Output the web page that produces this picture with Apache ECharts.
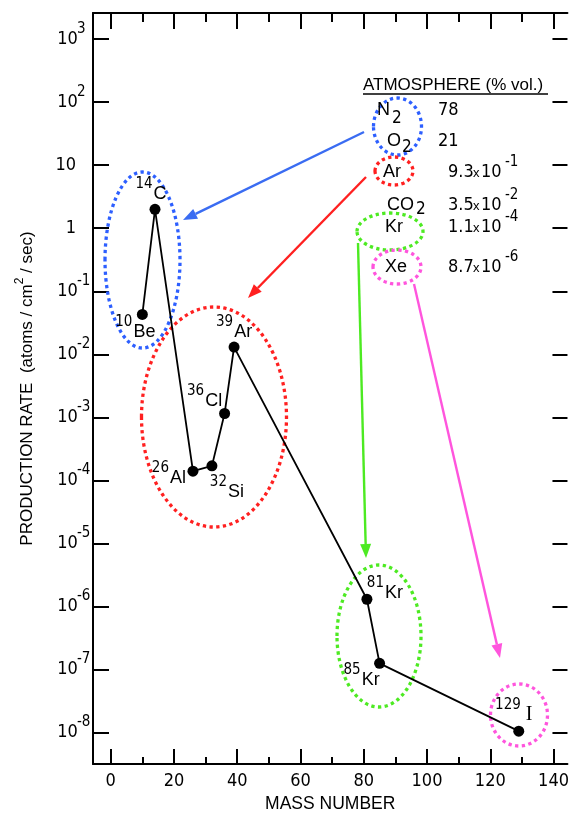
<!DOCTYPE html>
<html><head><meta charset="utf-8">
<script src="https://cdn.jsdelivr.net/npm/echarts@6/dist/echarts.min.js"></script>
<style>html,body{margin:0;padding:0;background:#fff}#c{width:572px;height:818px}</style>
</head><body><div id="c"></div>
<script>
// ---------- data ----------
const massNumbers = [10, 14, 26, 32, 36, 39, 81, 85, 129];
const productionRates = [4.3e-2, 2.0, 1.4e-4, 1.7e-4, 1.15e-3, 1.3e-2, 1.3e-6, 1.25e-7, 1.05e-8];
const isotopeElements = ['Be', 'C', 'Al', 'Si', 'Cl', 'Ar', 'Kr', 'Kr', 'I'];
const xTickValues = [0, 20, 40, 60, 80, 100, 120, 140];
const xMinorTickValues = [10, 30, 50, 70, 90, 110, 130];
const yTickValues = [1e-8, 1e-7, 1e-6, 1e-5, 1e-4, 1e-3, 1e-2, 1e-1, 1, 10, 100, 1000];
const gasNames = ['N', 'O', 'Ar', 'CO', 'Kr', 'Xe'];
const gasSubscripts = ['2', '2', '', '2', '', ''];
const gasMantissas = ['78', '21', '9.3', '3.5', '1.1', '8.7'];
const gasExponents = [null, null, -1, -2, -4, -6];

// ---------- layout / style (not data) ----------
const NARROW = '"Liberation Sans Narrow","DejaVu Sans Condensed","Liberation Sans",sans-serif';
const SANS = '"Liberation Sans",Arial,sans-serif';
const SERIF = '"Liberation Serif",serif';
const labelOffsets = [[-7, 18], [-4, -15], [-24, 7], [15, 26], [-20, -12], [0, -15], [18, -6], [-18, 17], [-5, -16]];
const rowY = [110, 141, 172, 205, 227, 267];
const nameX = [377, 387, 383, 387, 385, 385];
const subPos = [[392, 119], [402, 148], null, [416, 210], null, null];

const points = massNumbers.map((m, i) => ({
  value: [m, productionRates[i]],
  label: { offset: labelOffsets[i] }
}));

function arrow(x1, y1, x2, y2, color) {
  const a = Math.atan2(y2 - y1, x2 - x1), L = 14, W = 5.5;
  const bx = x2 - L * Math.cos(a), by = y2 - L * Math.sin(a);
  const px = -Math.sin(a) * W, py = Math.cos(a) * W;
  return [
    { type: 'line', shape: { x1: x1, y1: y1, x2: bx, y2: by }, style: { stroke: color, lineWidth: 2.4 }, z: 5 },
    { type: 'polygon', shape: { points: [[x2, y2], [bx + px, by + py], [bx - px, by - py]] }, style: { fill: color }, z: 5 }
  ];
}
function ell(cx, cy, rx, ry, color) {
  return { type: 'ellipse', shape: { cx: cx, cy: cy, rx: rx, ry: ry },
    style: { fill: 'none', stroke: color, lineWidth: 3.3, lineDash: [3.3, 3.4] }, z: 4 };
}
function txt(x, y, text, font, size, align) {
  return { type: 'text', x: x, y: y, z: 6,
    style: { text: text, fontFamily: font, fontSize: size, fill: '#000', align: align || 'left', verticalAlign: 'middle' } };
}

const BLUE = '#2d5fff', RED = '#ff2020', GREEN = '#4dea22', MAG = '#ff55dd';
const graphics = [];
graphics.push(ell(142.5, 260, 37.5, 88, BLUE));
graphics.push(ell(214, 417, 72.5, 110, RED));
graphics.push(ell(379, 636, 42, 71, GREEN));
graphics.push(ell(519, 715, 28.5, 31, MAG));
graphics.push(ell(397.5, 126.5, 24, 28.5, BLUE));
graphics.push(ell(394, 171, 19, 14, RED));
graphics.push(ell(390, 231.5, 33, 18.5, GREEN));
graphics.push(ell(397, 267, 24, 17, MAG));
graphics.push(...arrow(364, 132, 183, 220, '#3a6cf2'));
graphics.push(...arrow(366, 177, 248, 298, RED));
graphics.push(...arrow(358, 243, 366, 558, GREEN));
graphics.push(...arrow(414, 284, 500, 658, MAG));
graphics.push(txt(363, 85, 'ATMOSPHERE (% vol.)', SANS, 17));
graphics.push({ type: 'line', shape: { x1: 363, y1: 94, x2: 548, y2: 94 }, style: { stroke: '#000', lineWidth: 1.5 }, z: 6 });
gasNames.forEach((g, i) => {
  graphics.push(txt(nameX[i], rowY[i], g, SANS, 18));
  if (gasSubscripts[i]) graphics.push(txt(subPos[i][0], subPos[i][1], gasSubscripts[i], NARROW, 17));
  const vx = gasExponents[i] === null ? 438 : 448;
  graphics.push(txt(vx, rowY[i], gasMantissas[i], NARROW, 18));
  if (gasExponents[i] !== null) {
    graphics.push(txt(473, rowY[i] + 1, 'x', SANS, 13));
    graphics.push(txt(481, rowY[i], '10', NARROW, 18));
    graphics.push(txt(505, rowY[i] - 10, String(gasExponents[i]), NARROW, 15));
  }
});

const chart = echarts.init(document.getElementById('c'), null, { renderer: 'canvas' });
const xCommon = { type: 'value', min: -5.6, max: 144.4, splitLine: { show: false }, gridIndex: 0 };
const lineOn = { onZero: false, lineStyle: { color: '#000', width: 2 } };
const lineOff = { show: false, onZero: false };
chart.setOption({
  animation: false,
  backgroundColor: '#fff',
  grid: { left: 93, right: -3, top: 13, bottom: 52 },
  xAxis: [
    Object.assign({}, xCommon, {
      position: 'bottom',
      name: 'MASS NUMBER', nameLocation: 'middle', nameGap: 31,
      nameTextStyle: { fontFamily: SANS, fontSize: 17.5, color: '#000' },
      axisLine: lineOn,
      axisTick: { inside: true, length: 15, lineStyle: { color: '#000', width: 2 }, customValues: xTickValues },
      axisLabel: { customValues: xTickValues, margin: 8, fontFamily: NARROW, fontSize: 18, color: '#000' }
    }),
    Object.assign({}, xCommon, {
      position: 'bottom', axisLine: lineOff,
      axisTick: { inside: true, length: 7, lineStyle: { color: '#000', width: 2 }, customValues: xMinorTickValues },
      axisLabel: { show: false }
    }),
    Object.assign({}, xCommon, {
      position: 'top',
      axisLine: lineOn,
      axisTick: { inside: true, length: 16, lineStyle: { color: '#000', width: 2 }, customValues: xTickValues },
      axisLabel: { show: false }
    }),
    Object.assign({}, xCommon, {
      position: 'top', axisLine: lineOff,
      axisTick: { inside: true, length: 9, lineStyle: { color: '#000', width: 2 }, customValues: xMinorTickValues },
      axisLabel: { show: false }
    })
  ],
  yAxis: [
    {
      type: 'log', logBase: 10, min: Math.pow(10, -8.5), max: Math.pow(10, 3.415), position: 'left',
      splitLine: { show: false },
      name: 'PRODUCTION RATE  (atoms / cm{s|2} / sec)', nameLocation: 'middle', nameGap: 53, nameRotate: 90,
      nameTextStyle: { fontFamily: SANS, fontSize: 17, color: '#000',
        rich: { s: { fontFamily: SANS, fontSize: 12, padding: [0, 0, 14, 0], color: '#000' } } },
      axisLine: lineOn,
      axisTick: { inside: true, length: 16, lineStyle: { color: '#000', width: 2 }, customValues: yTickValues },
      axisLabel: {
        customValues: yTickValues, align: 'left', margin: 34,
        formatter: function (v) {
          const e = Math.round(Math.log10(v));
          if (e === 0) return '{b|1}';
          if (e === 1) return '{b|10}';
          return '{b|10}{s|' + e + '}';
        },
        rich: {
          b: { fontFamily: NARROW, fontSize: 18, width: 17, align: 'right', color: '#000' },
          s: { fontFamily: NARROW, fontSize: 15, padding: [0, 0, 20, 1], color: '#000' }
        }
      }
    },
    {
      type: 'log', logBase: 10, min: Math.pow(10, -8.5), max: Math.pow(10, 3.415), position: 'right',
      splitLine: { show: false },
      axisLine: lineOff,
      axisTick: { inside: true, length: 15, lineStyle: { color: '#000', width: 2 }, customValues: yTickValues },
      axisLabel: { show: false }
    }
  ],
  series: [{
    type: 'line', xAxisIndex: 0, yAxisIndex: 0,
    data: points,
    symbol: 'circle', symbolSize: 11,
    itemStyle: { color: '#000' },
    lineStyle: { color: '#000', width: 1.8 },
    z: 7,
    label: {
      show: true, position: 'inside',
      formatter: function (p) {
        const i = p.dataIndex;
        const el = isotopeElements[i];
        return '{s|' + massNumbers[i] + '}{' + (el === 'I' ? 'ei' : 'e') + '|' + el + '}';
      },
      rich: {
        s: { fontFamily: NARROW, fontSize: 15, padding: [0, 1, 20, 0], color: '#000' },
        e: { fontFamily: SANS, fontSize: 18, color: '#000' },
        ei: { fontFamily: SERIF, fontSize: 20, color: '#000', padding: [0, 0, 0, 4] }
      }
    }
  }],
  graphic: graphics
});
</script>
</body></html>
